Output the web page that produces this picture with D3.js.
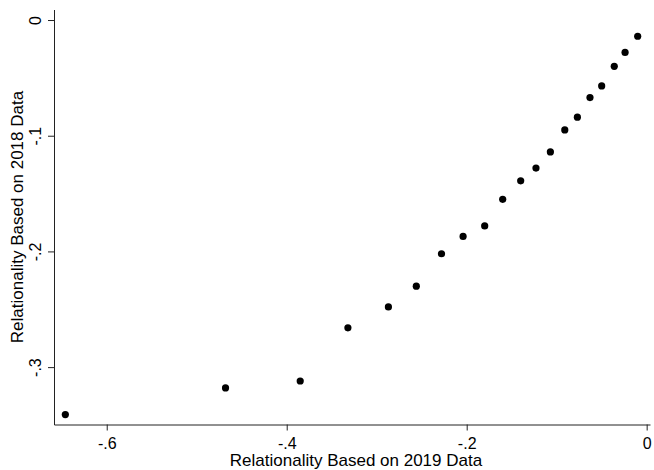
<!DOCTYPE html>
<html>
<head>
<meta charset="utf-8">
<script src="https://cdn.jsdelivr.net/npm/d3@7"></script>
<style>
  html, body { margin: 0; padding: 0; background: #fff; }
  svg { display: block; }
  text { font-family: "Liberation Sans", Arial, sans-serif; fill: #000; }
</style>
</head>
<body>
<div id="chart"></div>
<script>
// relationality estimates, 2019 (x) vs 2018 (y)
let rel2019 = [-0.646, -0.468, -0.385, -0.332, -0.287, -0.256, -0.228, -0.204, -0.180, -0.160,
               -0.140, -0.123, -0.107, -0.091, -0.077, -0.063, -0.050, -0.036, -0.024, -0.010];
let rel2018 = [-0.341, -0.318, -0.312, -0.266, -0.248, -0.230, -0.202, -0.187, -0.178, -0.155,
               -0.139, -0.128, -0.114, -0.095, -0.084, -0.067, -0.057, -0.040, -0.028, -0.014];
let xTicks = [-0.6, -0.4, -0.2, 0];
let yTicks = [0, -0.1, -0.2, -0.3];

let W = 654, H = 470;
let plot = {left: 54, right: 650, top: 9.5, bottom: 424.5};

let svg = d3.select('#chart')
  .append('svg')
  .attr('width', W)
  .attr('height', H);

// Stata style labels: -.6, -.4, 0 (plain hyphen, no leading zero)
let fmt = d => d === 0 ? '0' : d3.format('.1f')(d).replace('\u2212', '-').replace('0.', '.');

let xScale = d3.scaleLinear()
  .domain([-0.6586, 0.0037])
  .range([plot.left, plot.right]);

let yScale = d3.scaleLinear()
  .domain([-0.3496, 0.0091])
  .range([plot.bottom, plot.top]);

// x axis
let gx = svg.append('g')
  .attr('transform', 'translate(0,' + plot.bottom + ')')
  .call(d3.axisBottom(xScale).tickValues(xTicks).tickFormat(fmt)
    .tickSize(6).tickSizeOuter(0).tickPadding(7));
gx.selectAll('text').style('font-size', '16px');

// y axis, labels rotated like the original
let gy = svg.append('g')
  .attr('transform', 'translate(' + plot.left + ',0)')
  .call(d3.axisLeft(yScale).tickValues(yTicks).tickFormat(fmt)
    .tickSize(6).tickSizeOuter(0));
gy.selectAll('text')
  .attr('x', null)
  .attr('dy', null)
  .attr('text-anchor', 'middle')
  .attr('transform', 'translate(-13,0) rotate(-90)')
  .style('font-size', '16px');

svg.selectAll('.domain, .tick line').attr('stroke', '#222');
svg.selectAll('.tick text').attr('fill', '#000');

// axis titles
svg.append('text')
  .attr('x', (plot.left + plot.right) / 2 + 4)
  .attr('y', 466)
  .attr('text-anchor', 'middle')
  .style('font-size', '17px')
  .text('Relationality Based on 2019 Data');

svg.append('text')
  .attr('transform', 'translate(23,' + (plot.top + plot.bottom) / 2 + ') rotate(-90)')
  .attr('text-anchor', 'middle')
  .style('font-size', '17px')
  .text('Relationality Based on 2018 Data');

// points
svg.selectAll('.dot')
  .data(rel2019.map((x, i) => ({x: x, y: rel2018[i]})))
  .enter().append('circle')
  .attr('class', 'dot')
  .attr('cx', d => xScale(d.x))
  .attr('cy', d => yScale(d.y))
  .attr('r', 3.6)
  .attr('fill', '#000');
</script>
</body>
</html>
